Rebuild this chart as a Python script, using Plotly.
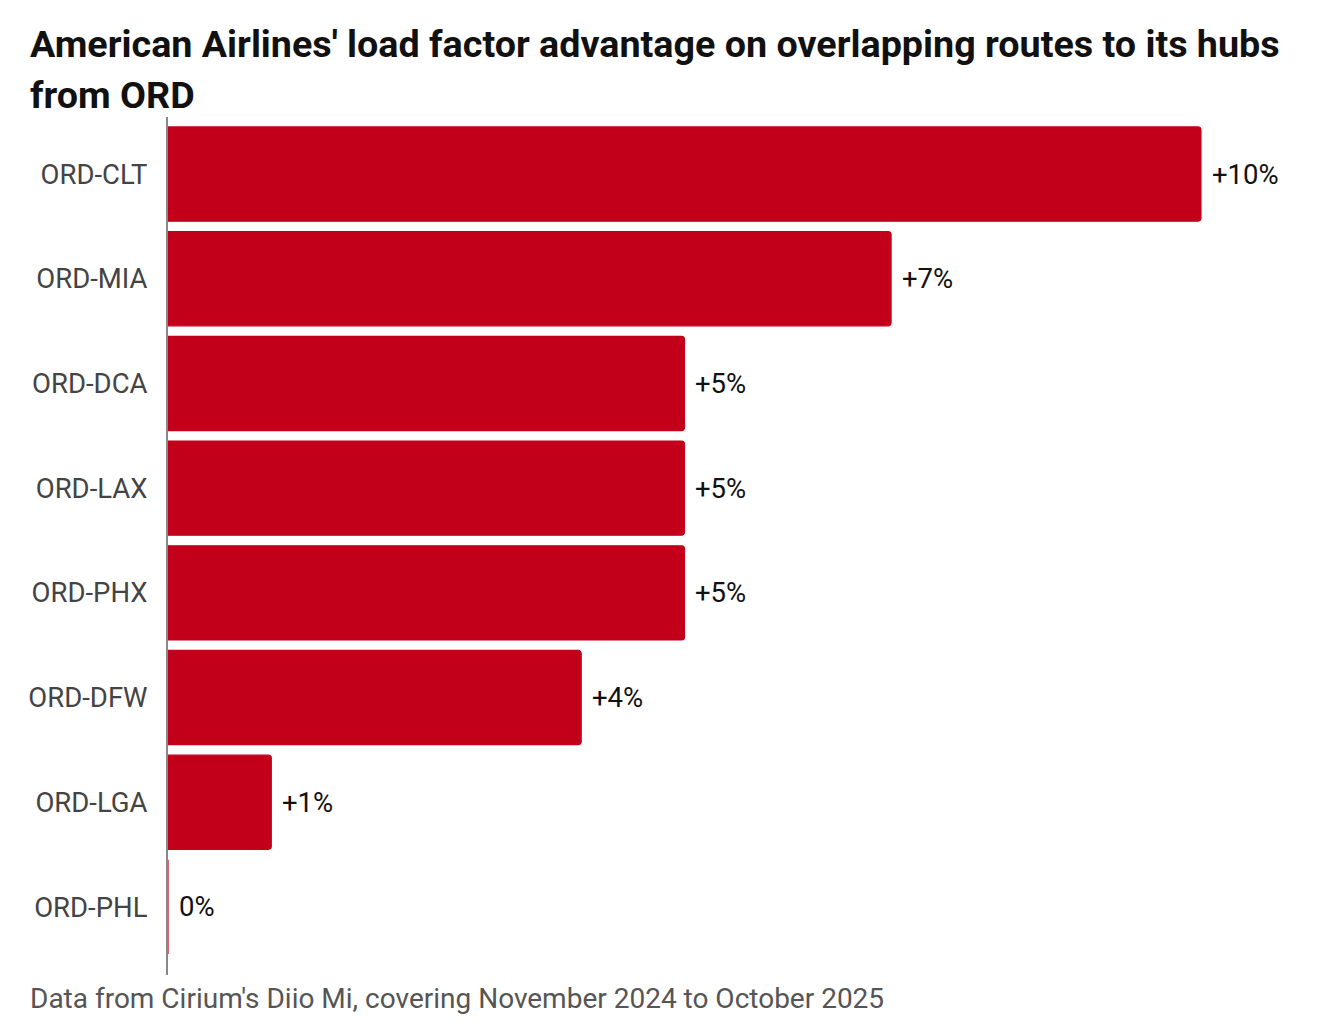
import plotly.graph_objects as go

routes = ["ORD-CLT", "ORD-MIA", "ORD-DCA", "ORD-LAX", "ORD-PHX", "ORD-DFW", "ORD-LGA", "ORD-PHL"]
advantage = [10, 7, 5, 5, 5, 4, 1, 0]
labels = ["+10%", "+7%", "+5%", "+5%", "+5%", "+4%", "+1%", "0%"]

title_lines = ["American Airlines' load factor advantage on overlapping routes to its hubs", "from ORD"]
footer = "Data from Cirium's Diio Mi, covering November 2024 to October 2025"

RED = "#C2001A"
W, H = 1304, 1014
ML, MT, MR, MB = 160, 109, 16, 47
PW = W - ML - MR

fig = go.Figure(go.Bar(
    x=advantage, y=routes, orientation="h",
    marker=dict(color=RED, line=dict(color=RED, width=1.2)),
    width=0.9,
    hoverinfo="skip",
))

for v, r, t in zip(advantage, routes, labels):
    fig.add_annotation(
        x=v, y=r, text=t, xanchor="left", yanchor="middle", xshift=9,
        showarrow=False, font=dict(family="Roboto", size=27.5, color="#111"),
    )

fig.update_layout(
    width=W, height=H,
    margin=dict(l=ML, r=MR, t=MT, b=MB),
    plot_bgcolor="white", paper_bgcolor="white",
    barcornerradius=3,
    showlegend=False,
    font=dict(family="Roboto", size=27.5, color="#444"),
)
fig.update_xaxes(range=[0, 10.92], visible=False, showgrid=False, zeroline=False)
fig.update_yaxes(
    autorange=False, range=[7.65, -0.545],
    showline=True, linecolor="#888", linewidth=2, layer="below traces",
    showgrid=False, zeroline=False, ticks="", ticklabelstandoff=13,
    tickfont=dict(family="Roboto", size=27.5, color="#444"),
)

title_shifts = [73, 22]
for line, ys in zip(title_lines, title_shifts):
    fig.add_annotation(
        text="<b>" + line + "</b>", xref="paper", yref="paper",
        x=(20 - ML) / PW, xanchor="left", y=1, yanchor="middle",
        yshift=ys,
        showarrow=False, font=dict(family="Roboto", size=37.7, color="#111"),
    )
fig.add_annotation(
    text=footer, xref="paper", yref="paper", x=(20 - ML) / PW, xanchor="left",
    y=0, yanchor="middle", yshift=-23, showarrow=False,
    font=dict(family="Roboto", size=28, color="#555"),
)

fig.write_html("out.html")
